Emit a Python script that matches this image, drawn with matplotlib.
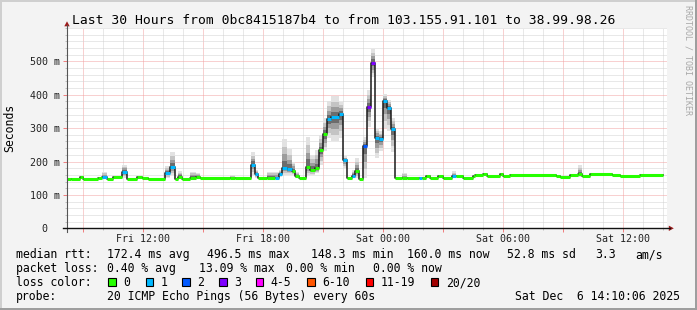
import datetime as dt
import matplotlib
matplotlib.use("Agg")
import matplotlib.pyplot as plt
import matplotlib.dates as mdates
from matplotlib.ticker import FuncFormatter, MultipleLocator
from matplotlib.lines import Line2D
from matplotlib.patches import Rectangle, Polygon

plt.rcParams['font.family'] = ['DejaVu Sans Mono', 'DejaVu Sans']

W, H = 697, 310

# time window: last 30 hours
start = dt.datetime(2025, 12, 5, 8, 12)
end = dt.datetime(2025, 12, 6, 14, 12)

# median rtt as steps: start of each step in minutes after `start`
seg_start_min = [0, 12, 39, 48, 93, 105, 120, 138, 165, 180,
                 210, 225, 243, 294, 309, 324, 333, 345, 369, 387,
                 399, 489, 504, 552, 564, 573, 600, 624, 636, 645,
                 660, 675, 684, 696, 717, 729, 744, 756, 768, 780,
                 792, 816, 828, 840, 855, 864, 876, 888, 900, 912,
                 924, 936, 948, 960, 972, 984, 1005, 1020, 1056, 1065,
                 1077, 1089, 1113, 1128, 1155, 1167, 1188, 1218, 1224, 1248,
                 1260, 1299, 1308, 1329, 1467, 1479, 1509, 1533, 1545, 1569,
                 1635, 1659, 1719]
seg_end_min = 1788

median_ms = [147, 149, 154, 149, 151, 154, 149, 153, 169, 149,
             154, 151, 149, 166, 184, 149, 154, 149, 152, 154,
             152, 150, 150, 191, 162, 150, 151, 150, 162, 180,
             177, 172, 156, 150, 184, 174, 180, 233, 281, 326,
             333, 343, 204, 151, 157, 172, 149, 245, 363, 496,
             269, 267, 380, 360, 296, 151, 151, 151, 151, 151,
             156, 151, 156, 152, 156, 156, 150, 156, 160, 163,
             158, 162, 156, 161, 158, 154, 159, 162, 158, 163,
             159, 158, 161]

# lost pings out of 20 -> index into loss_colors
loss_level = [0, 0, 0, 0, 0, 1, 0, 0, 1, 0,
              0, 0, 0, 1, 1, 0, 0, 0, 0, 0,
              0, 0, 0, 1, 1, 0, 0, 1, 1, 1,
              1, 0, 0, 0, 0, 0, 0, 0, 0, 1,
              1, 1, 1, 0, 1, 0, 0, 2, 3, 3,
              1, 1, 1, 1, 1, 0, 0, 0, 1, 0,
              0, 0, 0, 0, 1, 0, 0, 0, 0, 0,
              0, 0, 0, 0, 0, 0, 0, 0, 0, 0,
              0, 0, 0]

N = None
# smoke (spread of the 20 pings), ms
smoke_lo = [N, N, N, N, N, 150, N, N, 150, N,
            N, N, N, 150, 160, N, 150, N, 150, 150,
            N, 150, N, 160, 150, N, 150, 150, 155, 160,
            160, 160, 150, N, 160, 160, 165, 190, 230, 270,
            260, 270, 180, N, 150, 150, N, 150, 303, 453,
            210, 230, 300, 290, 228, N, 150, N, N, N,
            N, N, N, N, 150, N, N, N, N, N,
            N, N, N, N, N, N, N, 155, N, N,
            N, N, N]
smoke_hi = [N, N, N, N, N, 168, N, N, 191, N,
            N, N, N, 186, 228, N, 171, N, 170, 165,
            N, 160, N, 228, 175, N, 170, 170, 175, 266,
            236, 200, 170, N, 273, 220, 235, 280, 330, 380,
            395, 378, 215, N, 175, 210, N, 273, 413, 536,
            300, 290, 403, 385, 330, N, 165, N, N, N,
            N, N, N, N, 171, N, N, N, N, N,
            N, N, N, N, N, N, N, 189, N, N,
            N, N, N]

loss_labels = ["0", "1", "2", "3", "4-5", "6-10", "11-19", "20/20"]
loss_colors = ["#26ff00", "#00b8ff", "#0059ff", "#7e00ff",
               "#ff00ff", "#ff5500", "#ff0000", "#a10000"]

y_ticks = [0, 100, 200, 300, 400, 500]
y_labels = ["", "100 m", "200 m", "300 m", "400 m", "500 m"]

title = "Last 30 Hours from 0bc8415187b4 to from 103.155.91.101 to 38.99.98.26"
stats_rtt = ["172.4 ms avg", "496.5 ms max", "148.3 ms min", "160.0 ms now",
             "52.8 ms sd", "3.3", "am/s"]
stats_loss = ["0.40 % avg", "13.09 % max", "0.00 % min", "0.00 % now"]
probe = "20 ICMP Echo Pings (56 Bytes) every 60s"
stamp = "Sat Dec  6 14:10:06 2025"


def fx(x):
    return x / W


def fy(y):
    return 1 - y / H


fig = plt.figure(figsize=(W / 100, H / 100), dpi=100, facecolor="#f3f3f3")
ax = fig.add_axes([fx(67), fy(228.3), 600 / W, 200.4 / H])
ax.set_facecolor("white")
ax.set_axisbelow(True)

t_edges = mdates.date2num([start + dt.timedelta(minutes=m)
                           for m in seg_start_min + [seg_end_min]])
t0, t1 = t_edges[:-1], t_edges[1:]

# smoke
bands = [(1.0, "#e2e2e2"), (0.72, "#c4c4c4"), (0.48, "#9c9c9c"), (0.25, "#6c6c6c")]
for a, b, med, lo, hi in zip(t0, t1, median_ms, smoke_lo, smoke_hi):
    if lo is None:
        continue
    for frac, col in bands:
        ax.fill_between([a, b], med - (med - lo) * frac, med + (hi - med) * frac,
                        color=col, lw=0)

# median line
ax.step(t_edges, median_ms + [median_ms[-1]], where="post", color="#1a1a1a", lw=1.1)
ax.hlines(median_ms, t0, t1, colors=[loss_colors[l] for l in loss_level],
          lw=2.2, capstyle="butt")

ax.set_xlim(mdates.date2num(start), mdates.date2num(end))
ax.set_ylim(0, 600)

ax.xaxis.set_major_locator(mdates.HourLocator(byhour=range(0, 24, 3)))
ax.xaxis.set_minor_locator(mdates.HourLocator())


def xfmt(v, pos):
    d = mdates.num2date(v)
    return d.strftime("%a %H:%M") if d.hour % 6 == 0 else ""


ax.xaxis.set_major_formatter(FuncFormatter(xfmt))
ax.set_yticks(y_ticks, labels=y_labels)
ax.yaxis.set_minor_locator(MultipleLocator(20))

ax.grid(which="minor", color="#d2d2d2", linestyle=(0, (1, 1)), lw=0.72)
ax.grid(which="major", color="#f2a2a2", linestyle=(0, (1, 1)), lw=0.72)
ax.tick_params(which="major", direction="out", length=2.9, width=0.72,
               color="#f08080", labelsize=7.2, labelcolor="#222222")
ax.tick_params(which="minor", direction="out", length=1.4, width=0.72,
               color="#c0c0c0")
ax.tick_params(axis="y", pad=2.2)
ax.tick_params(axis="x", pad=1.0)
for s in ax.spines.values():
    s.set_visible(False)
ax.annotate("0", xy=(0, 0), xycoords=("axes fraction", "data"),
            xytext=(-13.9, 0), textcoords="offset points",
            ha="right", va="center_baseline", fontsize=7.2, color="#222222")

# axes with arrows
fig.add_artist(Line2D([fx(67), fx(67)], [fy(231.5), fy(25)], color="#555555", lw=0.8))
fig.add_artist(Line2D([fx(63), fx(670)], [fy(228.3), fy(228.3)], color="#111111", lw=1.0))
arrow = "#9e1b1b"
fig.add_artist(Polygon([(fx(67), fy(21.3)), (fx(64.3), fy(26.3)), (fx(69.7), fy(26.3))],
                       closed=True, color=arrow, lw=0))
fig.add_artist(Polygon([(fx(673.8), fy(228.3)), (fx(668.8), fy(225.6)), (fx(668.8), fy(231))],
                       closed=True, color=arrow, lw=0))

# frame
fig.add_artist(Rectangle((0, fy(2)), 1, 2 / H, transform=fig.transFigure, color="#cfcfcf", lw=0))
fig.add_artist(Rectangle((0, 0), 2 / W, 1, transform=fig.transFigure, color="#cfcfcf", lw=0))
fig.add_artist(Rectangle((0, 0), 1, 2 / H, transform=fig.transFigure, color="#9e9e9e", lw=0))
fig.add_artist(Rectangle((fx(695), 0), 2 / W, 1, transform=fig.transFigure, color="#9e9e9e", lw=0))

# texts
fig.text(fx(72.3), fy(24), title, fontsize=9.4, va="baseline", color="#000000")
fig.text(fx(10), fy(127.5), "Seconds", rotation=90, fontsize=8.3,
         ha="center", va="center", color="#000000")
fig.text(fx(688), fy(60), "RRDTOOL / TOBI OETIKER", rotation=270, fontsize=6,
         ha="center", va="center", color="#a8a8a8")

lsize = 8.3
base = [258.3, 272.3, 286.3, 300.0]
fig.text(fx(16), fy(base[0]), "median rtt:", fontsize=lsize, va="baseline")
for s, x in zip(stats_rtt, [107.3, 206.7, 311, 407.3, 506.7, 595, 635]):
    fig.text(fx(x), fy(base[0]), s, fontsize=lsize, va="baseline")
fig.text(fx(16), fy(base[1]), "packet loss:", fontsize=lsize, va="baseline")
for s, x in zip(stats_loss, [107.3, 199.3, 286, 372.7]):
    fig.text(fx(x), fy(base[1]), s, fontsize=lsize, va="baseline")
fig.text(fx(16), fy(base[2]), "loss color:", fontsize=lsize, va="baseline")
sw_x = [108.3, 145.7, 182.3, 219, 255.7, 307.3, 365.7, 430.7]
for lab, col, x in zip(loss_labels, loss_colors, sw_x):
    fig.add_artist(Rectangle((fx(x), fy(base[2])), 7.7 / W, 8.3 / H,
                             transform=fig.transFigure, facecolor=col,
                             edgecolor="#000000", lw=0.8))
    fig.text(fx(x + 15), fy(base[2]), lab, fontsize=lsize, va="baseline")
fig.text(fx(16), fy(base[3]), "probe:", fontsize=lsize, va="baseline")
fig.text(fx(107.3), fy(base[3]), probe, fontsize=lsize, va="baseline")
fig.text(fx(680), fy(base[3]), stamp, fontsize=lsize, va="baseline", ha="right")

fig.savefig("out.png", dpi=100, facecolor=fig.get_facecolor())
